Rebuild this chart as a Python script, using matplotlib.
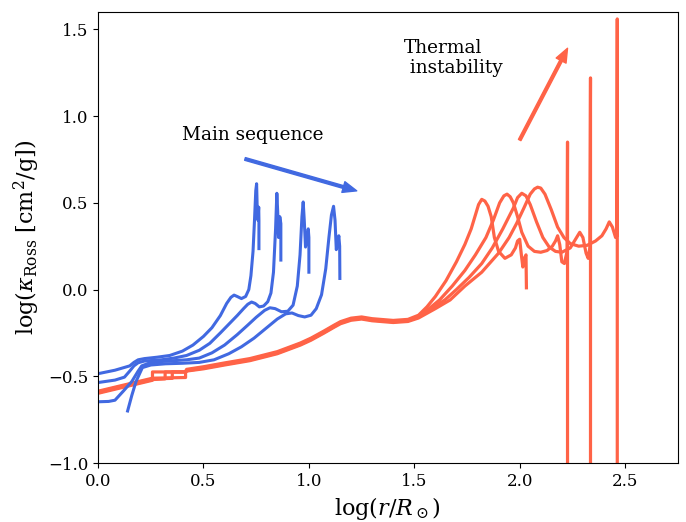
import matplotlib
matplotlib.use("Agg")
import matplotlib.pyplot as plt

# opacity profiles: blue = main sequence models, red = late (thermal instability) models

# main sequence profiles
ms1_x = [0.0, 0.08, 0.15, 0.17, 0.19, 0.22, 0.28, 0.34, 0.40, 0.45, 0.50, 0.54, 0.58, 0.61, 0.63, 0.645,
         0.66, 0.68, 0.70, 0.715, 0.725, 0.735, 0.742, 0.748, 0.752, 0.755, 0.758, 0.762, 0.763, 0.763]
ms1_y = [-0.485, -0.465, -0.44, -0.42, -0.405, -0.398, -0.39, -0.38, -0.355, -0.32, -0.27, -0.22, -0.15,
         -0.08, -0.045, -0.032, -0.04, -0.052, -0.04, 0.0, 0.08, 0.22, 0.40, 0.57, 0.61, 0.46, 0.40, 0.475,
         0.40, 0.236]

ms2_x = [0.0, 0.08, 0.125, 0.15, 0.17, 0.19, 0.22, 0.30, 0.36, 0.42, 0.48, 0.53, 0.58, 0.62, 0.66, 0.69,
         0.71, 0.728, 0.745, 0.765, 0.785, 0.805, 0.82, 0.832, 0.842, 0.848, 0.852, 0.856, 0.862, 0.867, 0.867]
ms2_y = [-0.536, -0.522, -0.505, -0.47, -0.44, -0.422, -0.412, -0.405, -0.395, -0.38, -0.35, -0.31, -0.25,
         -0.2, -0.15, -0.11, -0.085, -0.072, -0.08, -0.10, -0.095, -0.07, -0.02, 0.10, 0.35, 0.555, 0.45,
         0.30, 0.42, 0.38, 0.17]

ms3_x = [0.0, 0.05, 0.08, 0.12, 0.16, 0.19, 0.207, 0.24, 0.30, 0.36, 0.42, 0.48, 0.54, 0.60, 0.66, 0.71,
         0.75, 0.79, 0.815, 0.84, 0.87, 0.9, 0.925, 0.945, 0.958, 0.967, 0.973, 0.978, 0.984, 0.992, 0.997,
         1.0, 1.0]
ms3_y = [-0.647, -0.645, -0.638, -0.585, -0.53, -0.47, -0.44, -0.425, -0.415, -0.41, -0.405, -0.395, -0.365,
         -0.32, -0.26, -0.205, -0.16, -0.12, -0.105, -0.11, -0.128, -0.125, -0.09, 0.02, 0.2, 0.42, 0.505,
         0.40, 0.245, 0.30, 0.35, 0.30, 0.10]

ms4_x = [0.14, 0.16, 0.18, 0.21, 0.25, 0.32, 0.40, 0.48, 0.55, 0.62, 0.68, 0.74, 0.80, 0.85, 0.89, 0.92,
         0.95, 0.98, 1.01, 1.035, 1.06, 1.08, 1.095, 1.107, 1.117, 1.124, 1.13, 1.137, 1.142, 1.146, 1.147]
ms4_y = [-0.70, -0.61, -0.53, -0.45, -0.435, -0.428, -0.425, -0.42, -0.405, -0.37, -0.33, -0.28, -0.22,
         -0.17, -0.14, -0.135, -0.15, -0.158, -0.148, -0.11, -0.03, 0.12, 0.30, 0.43, 0.48, 0.40, 0.23,
         0.27, 0.31, 0.25, 0.064]

# late profiles
ti1_x = [0.0, 0.258, 0.258, 0.415, 0.42, 0.5, 0.6, 0.72, 0.85, 0.96, 1.01, 1.07, 1.12, 1.15, 1.2, 1.25,
         1.3, 1.4, 1.47, 1.52, 1.56, 1.6, 1.65, 1.7, 1.74, 1.77, 1.79, 1.805, 1.82, 1.835, 1.85, 1.865,
         1.88, 1.9, 1.93, 1.96, 1.98, 1.99, 2.0, 2.008, 2.015, 2.022, 2.03, 2.032]
ti1_y = [-0.598, -0.523, -0.475, -0.475, -0.46, -0.445, -0.423, -0.398, -0.358, -0.308, -0.28, -0.24,
         -0.205, -0.185, -0.165, -0.158, -0.168, -0.178, -0.172, -0.148, -0.1, -0.04, 0.05, 0.16, 0.26,
         0.35, 0.43, 0.49, 0.52, 0.51, 0.48, 0.42, 0.3, 0.22, 0.18, 0.2, 0.24, 0.28, 0.29, 0.2, 0.13, 0.18,
         0.2, 0.01]

ti2_x = [0.0, 0.258, 0.318, 0.318, 0.415, 0.42, 0.5, 0.6, 0.72, 0.85, 0.96, 1.01, 1.07, 1.12, 1.15, 1.2,
         1.25, 1.3, 1.4, 1.47, 1.52, 1.57, 1.62, 1.68, 1.74, 1.79, 1.84, 1.875, 1.905, 1.925, 1.94, 1.955,
         1.97, 1.99, 2.01, 2.04, 2.07, 2.1, 2.13, 2.155, 2.17, 2.18, 2.19, 2.2, 2.212, 2.225, 2.227, 2.227]
ti2_y = [-0.594, -0.519, -0.515, -0.475, -0.475, -0.465, -0.45, -0.428, -0.403, -0.363, -0.313, -0.285,
         -0.245, -0.21, -0.19, -0.17, -0.163, -0.173, -0.183, -0.177, -0.155, -0.11, -0.06, 0.02, 0.11, 0.2,
         0.3, 0.4, 0.5, 0.54, 0.55, 0.535, 0.5, 0.42, 0.33, 0.25, 0.22, 0.215, 0.225, 0.25, 0.28, 0.31,
         0.26, 0.16, 0.15, 0.22, 0.85, -1.1]

ti3_x = [0.0, 0.258, 0.352, 0.352, 0.415, 0.42, 0.5, 0.6, 0.72, 0.85, 0.96, 1.01, 1.07, 1.12, 1.15, 1.2,
         1.25, 1.3, 1.4, 1.47, 1.52, 1.58, 1.645, 1.7, 1.76, 1.82, 1.87, 1.92, 1.97, 1.99, 2.01, 2.03, 2.05,
         2.08, 2.11, 2.14, 2.17, 2.2, 2.24, 2.265, 2.285, 2.3, 2.315, 2.325, 2.333, 2.336, 2.336]
ti3_y = [-0.59, -0.515, -0.512, -0.475, -0.475, -0.468, -0.453, -0.431, -0.406, -0.366, -0.316, -0.288,
         -0.248, -0.213, -0.193, -0.173, -0.166, -0.176, -0.186, -0.18, -0.16, -0.11, -0.06, 0.0, 0.07,
         0.15, 0.24, 0.35, 0.47, 0.53, 0.555, 0.54, 0.49, 0.39, 0.3, 0.245, 0.22, 0.215, 0.24, 0.29, 0.33,
         0.3, 0.21, 0.18, 0.24, 1.22, -1.1]

ti4_x = [0.0, 0.258, 0.415, 0.415, 0.42, 0.5, 0.6, 0.72, 0.85, 0.96, 1.01, 1.07, 1.12, 1.15, 1.2, 1.25,
         1.3, 1.4, 1.47, 1.52, 1.6, 1.67, 1.74, 1.82, 1.9, 1.95, 1.985, 2.02, 2.05, 2.07, 2.085, 2.1, 2.12,
         2.15, 2.18, 2.21, 2.24, 2.28, 2.32, 2.36, 2.39, 2.41, 2.425, 2.44, 2.455, 2.461, 2.463, 2.463]
ti4_y = [-0.586, -0.511, -0.507, -0.47, -0.47, -0.457, -0.435, -0.41, -0.37, -0.32, -0.292, -0.252,
         -0.217, -0.197, -0.177, -0.17, -0.18, -0.19, -0.184, -0.164, -0.11, -0.06, 0.02, 0.1, 0.21, 0.3,
         0.38, 0.47, 0.55, 0.58, 0.59, 0.585, 0.55, 0.46, 0.36, 0.3, 0.265, 0.25, 0.255, 0.28, 0.31, 0.35,
         0.39, 0.36, 0.30, 0.31, 1.56, -1.1]

ms_profiles = [(ms1_x, ms1_y), (ms2_x, ms2_y), (ms3_x, ms3_y), (ms4_x, ms4_y)]
ti_profiles = [(ti1_x, ti1_y), (ti2_x, ti2_y), (ti3_x, ti3_y), (ti4_x, ti4_y)]

# style
plt.rcParams["font.family"] = "DejaVu Serif"
plt.rcParams["mathtext.fontset"] = "dejavuserif"

fig, ax = plt.subplots(figsize=(6.86, 5.22), dpi=100)
fig.subplots_adjust(left=0.143, right=0.988, bottom=0.113, top=0.977)

for x, y in ti_profiles:
    ax.plot(x, y, color="tomato", lw=2.3)
for x, y in ms_profiles:
    ax.plot(x, y, color="royalblue", lw=2.2)

# arrows + labels
ax.annotate("", xy=(1.227, 0.569), xytext=(0.697, 0.753),
            arrowprops=dict(color="royalblue", width=2.0, headwidth=8, headlength=10, shrink=0.0))
ax.text(0.40, 0.89, "Main sequence", fontsize=13.3, va="center", ha="left")

ax.annotate("", xy=(2.227, 1.391), xytext=(2.0, 0.862),
            arrowprops=dict(color="tomato", width=2.0, headwidth=8, headlength=10, shrink=0.0))
ax.text(1.45, 1.335, "Thermal\n instability", fontsize=13.3, va="center", ha="left")

ax.set_xlim(0, 2.75)
ax.set_ylim(-1.0, 1.6)
ax.set_xticks([0.0, 0.5, 1.0, 1.5, 2.0, 2.5])
ax.set_yticks([-1.0, -0.5, 0.0, 0.5, 1.0, 1.5])
ax.tick_params(labelsize=12)
ax.set_xlabel(r"$\log(r/R_\odot)$", fontsize=16)
ax.set_ylabel(r"$\log(\kappa_{\rm Ross}\ [{\rm cm}^2/{\rm g}])$", fontsize=16)

plt.savefig("out.png", dpi=100)
